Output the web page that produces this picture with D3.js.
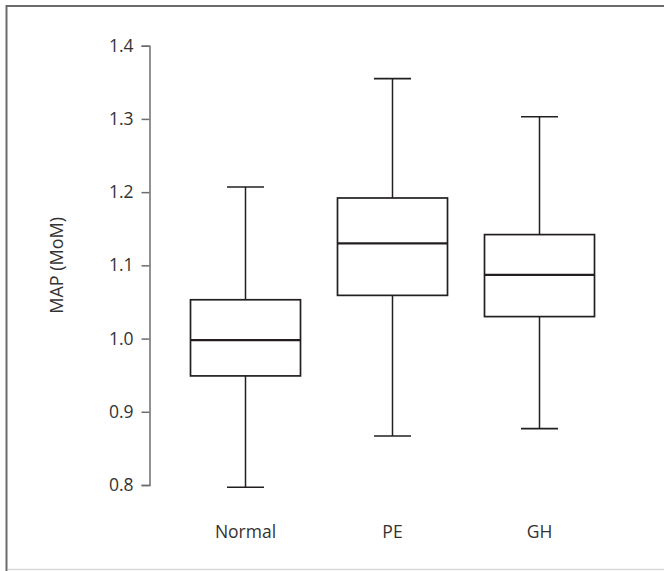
<!DOCTYPE html>
<html>
<head>
<meta charset="utf-8">
<script src="https://cdn.jsdelivr.net/npm/d3@7"></script>
<style>
    body { margin: 0; background: #fff; }
    svg { display: block; }
</style>
</head>
<body>
<svg id="chart"></svg>
<script>
// Box plot values
const groups = ["Normal", "PE", "GH"];
const whiskerLow = [0.797, 0.867, 0.877];
const q1 = [0.949, 1.059, 1.030];
const median = [0.998, 1.130, 1.087];
const q3 = [1.053, 1.192, 1.142];
const whiskerHigh = [1.207, 1.355, 1.303];
const yTicks = [0.8, 0.9, 1.0, 1.1, 1.2, 1.3, 1.4];

const data = groups.map((g, i) => ({
    group: g,
    lo: whiskerLow[i], q1: q1[i], med: median[i], q3: q3[i], hi: whiskerHigh[i]
}));

const W = 664, H = 571;
const font = "'Open Sans', 'DejaVu Sans', sans-serif";
const boxColor = "#231f20";
const axisColor = "#6d6d6d";
const textColor = "#333";

const svg = d3.select("#chart")
    .attr("width", W)
    .attr("height", H);

// frame around the figure
svg.append("line")
    .attr("x1", 6).attr("x2", W).attr("y1", 6).attr("y2", 6)
    .attr("stroke", "#6b6b6b").attr("stroke-width", 2);
svg.append("line")
    .attr("x1", 6.5).attr("x2", 6.5).attr("y1", 5).attr("y2", 571)
    .attr("stroke", "#6b6b6b").attr("stroke-width", 2);
svg.append("line")
    .attr("x1", 8).attr("x2", W).attr("y1", 569.5).attr("y2", 569.5)
    .attr("stroke", "#d9d9d9").attr("stroke-width", 1.5);

const axisX = 149.5;
const scaleY = d3.scaleLinear()
    .domain([0.8, 1.4])
    .range([485, 45.7]);

const scaleX = d3.scalePoint()
    .domain(groups)
    .range([245.5, 539.5]);

const boxW = 110;
const capW = 37;

// y axis
const axisY = d3.axisLeft(scaleY)
    .tickValues(yTicks)
    .tickFormat(d3.format(".1f"))
    .tickSizeOuter(0)
    .tickSize(8)
    .tickPadding(8);

const gy = svg.append("g")
    .attr("transform", "translate(" + axisX + ",0)")
    .call(axisY);
gy.select(".domain").attr("stroke", axisColor).attr("stroke-width", 1.5);
gy.selectAll(".tick line").attr("stroke", axisColor).attr("stroke-width", 1.5);
gy.selectAll(".tick text")
    .attr("fill", textColor)
    .style("font-family", font)
    .style("font-size", "17.5px");

svg.append("text")
    .attr("transform", "translate(63," + (scaleY(1.1)) + ") rotate(-90)")
    .attr("text-anchor", "middle")
    .attr("fill", textColor)
    .style("font-family", font)
    .style("font-size", "18px")
    .text("MAP (MoM)");

// boxes
const g = svg.append("g")
    .selectAll("g")
    .data(data).enter()
    .append("g")
    .attr("transform", d => "translate(" + scaleX(d.group) + ",0)");

// whiskers
g.append("line")
    .attr("x1", 0).attr("x2", 0)
    .attr("y1", d => scaleY(d.hi)).attr("y2", d => scaleY(d.q3))
    .attr("stroke", boxColor).attr("stroke-width", 1.5);
g.append("line")
    .attr("x1", 0).attr("x2", 0)
    .attr("y1", d => scaleY(d.q1)).attr("y2", d => scaleY(d.lo))
    .attr("stroke", boxColor).attr("stroke-width", 1.5);
g.append("line")
    .attr("x1", -capW / 2).attr("x2", capW / 2)
    .attr("y1", d => scaleY(d.hi)).attr("y2", d => scaleY(d.hi))
    .attr("stroke", boxColor).attr("stroke-width", 1.6);
g.append("line")
    .attr("x1", -capW / 2).attr("x2", capW / 2)
    .attr("y1", d => scaleY(d.lo)).attr("y2", d => scaleY(d.lo))
    .attr("stroke", boxColor).attr("stroke-width", 1.6);

g.append("rect")
    .attr("x", -boxW / 2)
    .attr("width", boxW)
    .attr("y", d => scaleY(d.q3))
    .attr("height", d => scaleY(d.q1) - scaleY(d.q3))
    .attr("fill", "#fff")
    .attr("stroke", boxColor)
    .attr("stroke-width", 1.7);

g.append("line")
    .attr("x1", -boxW / 2).attr("x2", boxW / 2)
    .attr("y1", d => scaleY(d.med)).attr("y2", d => scaleY(d.med))
    .attr("stroke", boxColor).attr("stroke-width", 2.3);

// category labels
svg.append("g")
    .selectAll("text")
    .data(groups).enter()
    .append("text")
    .attr("x", d => scaleX(d))
    .attr("y", 538)
    .attr("text-anchor", "middle")
    .attr("fill", textColor)
    .style("font-family", font)
    .style("font-size", "17.5px")
    .text(d => d);
</script>
</body>
</html>
